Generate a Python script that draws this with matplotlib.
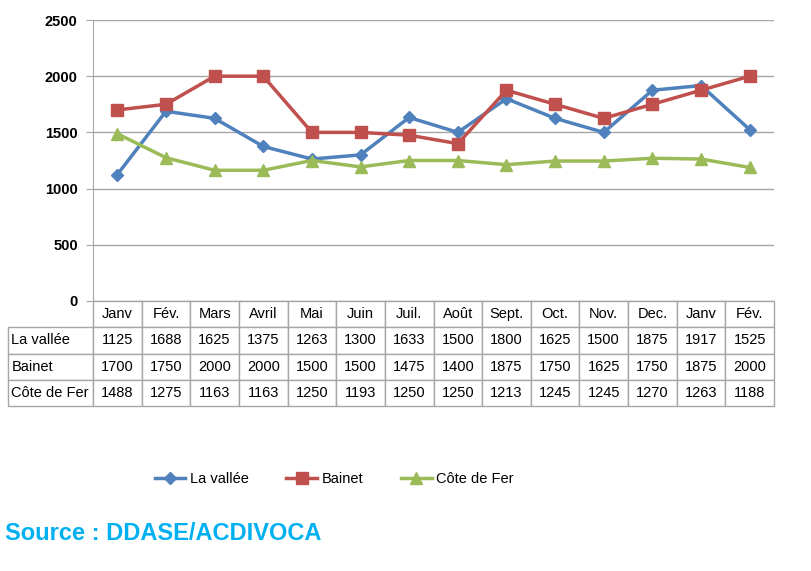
import numpy as np
import matplotlib.pyplot as plt

plt.rcParams['font.family'] = ['Liberation Sans', 'DejaVu Sans']

months = ["Janv", "Fév.", "Mars", "Avril", "Mai", "Juin", "Juil.", "Août",
          "Sept.", "Oct.", "Nov.", "Dec.", "Janv", "Fév."]
series_names = ["La vallée", "Bainet", "Côte de Fer"]
la_vallee = [1125, 1688, 1625, 1375, 1263, 1300, 1633, 1500, 1800, 1625, 1500, 1875, 1917, 1525]
bainet = [1700, 1750, 2000, 2000, 1500, 1500, 1475, 1400, 1875, 1750, 1625, 1750, 1875, 2000]
cote_de_fer = [1488, 1275, 1163, 1163, 1250, 1193, 1250, 1250, 1213, 1245, 1245, 1270, 1263, 1188]

colors = ["#4F81BD", "#C0504D", "#9BBB59"]
markers = ["D", "s", "^"]
msizes = [6, 8, 8]

fig = plt.figure(figsize=(8.12, 5.71), dpi=100)
ax = fig.add_axes([93/812, 1 - 301/571, 681/812, 281/571])

x = np.arange(len(months))
for vals, name, c, m, ms in zip([la_vallee, bainet, cote_de_fer], series_names, colors, markers, msizes):
    ax.plot(x, vals, color=c, marker=m, markersize=ms, linewidth=2.5, label=name)

ax.set_xlim(-0.5, len(months) - 0.5)
ax.set_ylim(0, 2500)
ax.set_yticks(np.arange(0, 2501, 500))
ax.set_xticks([])
ax.grid(axis='y', color='#A6A6A6', linewidth=1)
ax.set_axisbelow(True)
for s in ["top", "right", "bottom"]:
    ax.spines[s].set_visible(False)
ax.spines["left"].set_color('#A6A6A6')
ax.tick_params(axis='y', length=5, color='#A6A6A6', labelsize=10.5, pad=6)
for lab in ax.get_yticklabels():
    lab.set_fontweight('bold')

# data table under the chart
cell_text = [[name] + [str(v) for v in vals]
             for name, vals in zip(series_names, [la_vallee, bainet, cote_de_fer])]
header = [""] + months
label_w = 85 / 681
col_w = 1 / len(months)
tbl = ax.table(cellText=cell_text, colLabels=header,
               colWidths=[label_w] + [col_w] * len(months),
               bbox=[-label_w, -105/281, 1 + label_w, 105/281],
               cellLoc='center')
tbl.auto_set_font_size(False)
tbl.set_fontsize(10.5)
for (r, c), cell in tbl.get_celld().items():
    cell.set_edgecolor('#A6A6A6')
    cell.set_linewidth(1)
    if c == 0:
        cell._loc = 'left'
        cell.get_text().set_horizontalalignment('left')
        cell.PAD = 0.04
    if r == 0 and c == 0:
        cell.set_visible(False)

fig.legend(loc='center', bbox_to_anchor=(334/812, 1 - 479/571), ncol=3,
           frameon=False, fontsize=10.5, handlelength=2.1, columnspacing=2.6,
           handletextpad=0.3)

fig.text(5/812, 1 - 534/571, "Source : DDASE/ACDIVOCA", color='#00B0F0',
         fontsize=17, fontweight='bold', va='center', ha='left')

fig.savefig("out.png", dpi=100)
